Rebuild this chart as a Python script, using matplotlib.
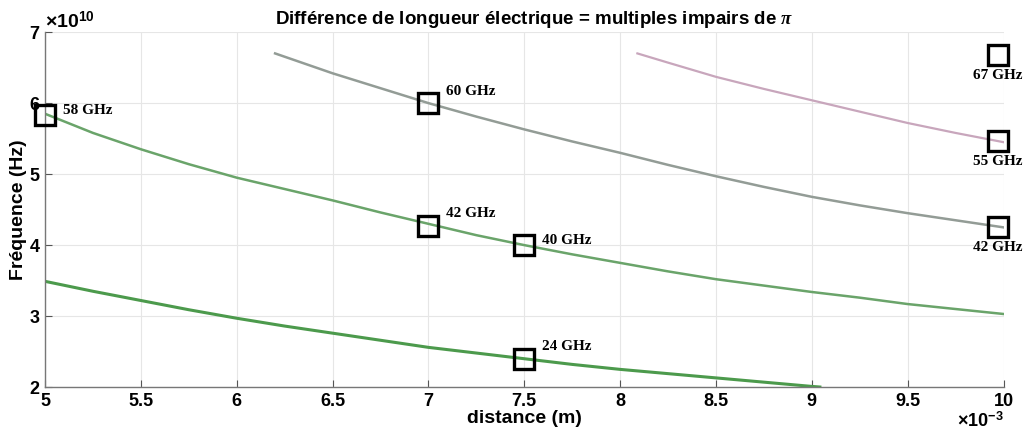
#!/usr/bin/env python3
"""
plot.py

Frequency vs distance for odd multiples of pi (electrical length difference)
"""

import matplotlib
matplotlib.use('Agg')
import matplotlib.pyplot as plt

# distances are in units of 1e-3 m, frequencies in units of 1e10 Hz
d_low = [5.0, 5.25, 5.5, 5.75, 6.0, 6.25, 6.5, 6.75, 7.0, 7.25, 7.5,
         7.75, 8.0, 8.25, 8.5, 8.75, 9.0, 9.05]
f_low = [3.49, 3.35, 3.22, 3.09, 2.97, 2.86, 2.76, 2.66, 2.56, 2.48, 2.40,
         2.32, 2.25, 2.19, 2.13, 2.07, 2.01, 2.0]

d_mid = [5.0, 5.25, 5.5, 5.75, 6.0, 6.25, 6.5, 6.75, 7.0, 7.25, 7.5,
         7.75, 8.0, 8.25, 8.5, 8.75, 9.0, 9.25, 9.5, 9.75, 10.0]
f_mid = [5.85, 5.58, 5.35, 5.14, 4.95, 4.79, 4.63, 4.46, 4.30, 4.14, 4.00,
         3.87, 3.75, 3.63, 3.52, 3.43, 3.34, 3.26, 3.17, 3.10, 3.03]

d_gray = [6.2, 6.5, 6.75, 7.0, 7.25, 7.5, 7.75, 8.0, 8.25, 8.5, 8.75,
          9.0, 9.25, 9.5, 9.75, 10.0]
f_gray = [6.70, 6.42, 6.21, 6.00, 5.81, 5.63, 5.46, 5.30, 5.13, 4.97, 4.82,
          4.68, 4.56, 4.45, 4.35, 4.25]

d_pink = [8.09, 8.25, 8.5, 8.75, 9.0, 9.25, 9.5, 9.75, 10.0]
f_pink = [6.70, 6.57, 6.37, 6.20, 6.04, 5.88, 5.72, 5.58, 5.45]

# highlighted points and their labels
mark_d = [5.0, 7.0, 7.0, 7.5, 7.5, 9.97, 9.97, 9.97]
mark_f = [5.83, 6.0, 4.27, 4.0, 2.4, 6.68, 5.47, 4.25]
mark_txt = ['58 GHz', '60 GHz', '42 GHz', '40 GHz', '24 GHz',
            '67 GHz', '55 GHz', '42 GHz']
# label placement: 'r' = right of the box, 'ur' = upper right, 'b' = below
mark_pos = ['r', 'ur', 'ur', 'r', 'ur', 'b', 'b', 'b']

xticks = [5, 5.5, 6, 6.5, 7, 7.5, 8, 8.5, 9, 9.5, 10]
yticks = [2, 3, 4, 5, 6, 7]

plt.rcParams['font.family'] = ['Liberation Sans', 'DejaVu Sans']
plt.rcParams['font.weight'] = 'bold'
plt.rcParams['mathtext.fontset'] = 'custom'
plt.rcParams['mathtext.rm'] = 'Liberation Sans'
plt.rcParams['mathtext.it'] = 'Liberation Serif:italic'
plt.rcParams['mathtext.bf'] = 'Liberation Sans:bold'

fig = plt.figure(figsize=(10.24, 4.34), dpi=100)
ax = fig.add_axes([0.044, 0.108, 0.936, 0.818])

ax.plot(d_low, f_low, color='#4c9a4c', lw=2.2, solid_capstyle='butt')
ax.plot(d_mid, f_mid, color='#6aa46a', lw=1.8)
ax.plot(d_gray, f_gray, color='#939c96', lw=1.8)
ax.plot(d_pink, f_pink, color='#c8a6bc', lw=1.6)

ax.plot(mark_d, mark_f, 's', ms=15, mfc='none', mec='black', mew=2.4,
        clip_on=False, zorder=5)

lab = dict(family='Liberation Serif', fontsize=11, fontweight='bold',
           textcoords='offset points')
for x, y, t, p in zip(mark_d, mark_f, mark_txt, mark_pos):
    if p == 'r':
        ax.annotate(t, (x, y), xytext=(13, -1), ha='left', va='bottom', **lab)
    elif p == 'ur':
        ax.annotate(t, (x, y), xytext=(13, 4), ha='left', va='bottom', **lab)
    else:
        ax.annotate(t, (x, y), xytext=(0, -10), ha='center', va='top', **lab)

ax.set_xlim(5, 10)
ax.set_ylim(2, 7)
ax.set_xticks(xticks)
ax.set_yticks(yticks)
ax.set_xticklabels(['{:g}'.format(v) for v in xticks])
ax.set_yticklabels(['{:g}'.format(v) for v in yticks])
ax.tick_params(direction='in', length=5, color='#555555', labelsize=13,
               pad=4, top=False, right=False)
ax.grid(True, color='#e6e6e6', lw=0.8)
ax.set_axisbelow(True)
for s in ['top', 'right']:
    ax.spines[s].set_visible(False)
for s in ['left', 'bottom']:
    ax.spines[s].set_color('#777777')
    ax.spines[s].set_linewidth(1.0)

ax.set_xlabel('distance (m)', fontsize=14, fontweight='bold', labelpad=0)
ax.set_ylabel('Fréquence (Hz)', fontsize=14, fontweight='bold', labelpad=2)
ax.set_title(r'Différence de longueur électrique = multiples impairs de $\pi$',
             fontsize=13.5, fontweight='bold', pad=6, x=0.51)

ax.text(0.0, 1.0, '×10$^{\\mathbf{10}}$', transform=ax.transAxes,
        ha='left', va='bottom', fontsize=14, fontweight='bold')
ax.text(1.0, -0.07, '×10$^{\\mathbf{-3}}$', transform=ax.transAxes,
        ha='right', va='top', fontsize=13, fontweight='bold')

fig.savefig('out.png', dpi=100)
